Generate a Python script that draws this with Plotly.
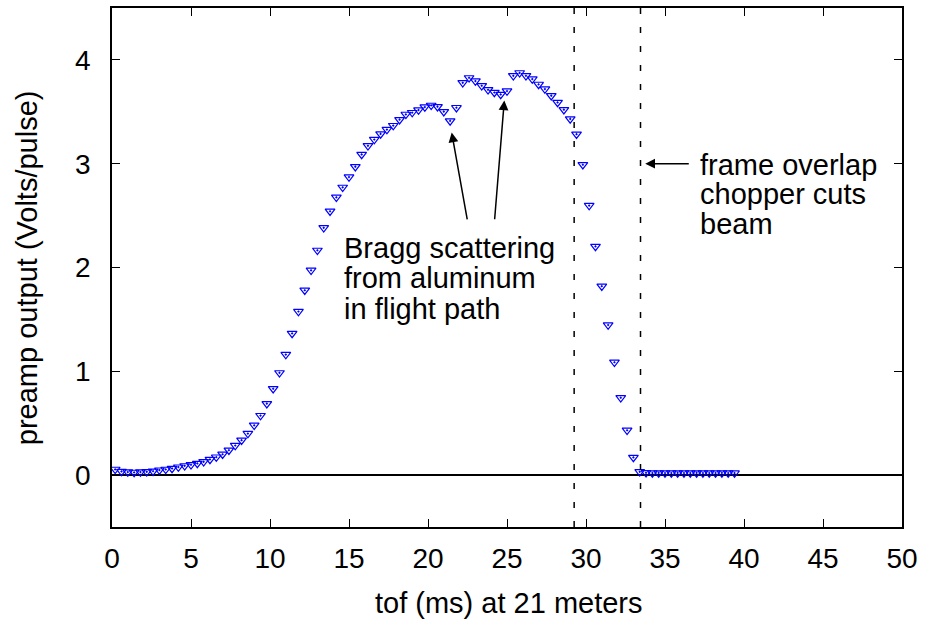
import plotly.graph_objects as go

# ---- data ----
tof_ms = [0.2, 0.6, 1.0, 1.4, 1.8, 2.2, 2.6, 3.0, 3.4, 3.8,
          4.2, 4.6, 5.0, 5.4, 5.8, 6.2, 6.6, 7.0, 7.4, 7.8,
          8.2, 8.6, 9.0, 9.4, 9.8, 10.2, 10.6, 11.0, 11.4, 11.8,
          12.2, 12.6, 13.0, 13.4, 13.8, 14.2, 14.6, 15.0, 15.4, 15.8,
          16.2, 16.6, 17.0, 17.4, 17.8, 18.2, 18.6, 19.0, 19.4, 19.8,
          20.2, 20.6, 21.0, 21.4, 21.8, 22.2, 22.6, 23.0, 23.4, 23.8,
          24.2, 24.6, 25.0, 25.4, 25.8, 26.2, 26.6, 27.0, 27.4, 27.8,
          28.2, 28.6, 29.0, 29.4, 29.8, 30.2, 30.6, 31.0, 31.4, 31.8,
          32.2, 32.6, 33.0, 33.4, 33.8, 34.2, 34.6, 35.0, 35.4, 35.8,
          36.2, 36.6, 37.0, 37.4, 37.8, 38.2, 38.6, 39.0, 39.4]

volts = [0.055, 0.035, 0.029, 0.026, 0.029, 0.032, 0.038, 0.048, 0.055, 0.064,
         0.077, 0.089, 0.099, 0.112, 0.128, 0.151, 0.173, 0.201, 0.240, 0.285,
         0.336, 0.400, 0.480, 0.573, 0.688, 0.832, 0.985, 1.161, 1.365, 1.576,
         1.781, 1.973, 2.165, 2.382, 2.542, 2.676, 2.772, 2.871, 2.971, 3.089,
         3.172, 3.233, 3.287, 3.329, 3.367, 3.424, 3.475, 3.492, 3.517, 3.546,
         3.562, 3.549, 3.501, 3.412, 3.540, 3.779, 3.827, 3.796, 3.751, 3.712,
         3.686, 3.667, 3.700, 3.847, 3.875, 3.847, 3.815, 3.764, 3.719, 3.655,
         3.590, 3.520, 3.431, 3.284, 2.990, 2.597, 2.203, 1.820, 1.446, 1.087,
         0.745, 0.432, 0.170, 0.032, 0.022, 0.020, 0.021, 0.020, 0.020, 0.021,
         0.020, 0.020, 0.021, 0.020, 0.020, 0.020, 0.021, 0.020, 0.020]

cut_lines = [29.25, 33.45]

x_ticks = [0, 5, 10, 15, 20, 25, 30, 35, 40, 45, 50]
y_ticks = [0, 1, 2, 3, 4]

bragg_lines = ["Bragg scattering", "from aluminum", "in flight path"]
frame_lines = ["frame overlap", "chopper cuts", "beam"]

x_title = "tof (ms) at 21 meters"
y_title = "preamp output (Volts/pulse)"

FONT = "Liberation Sans, Arial, Helvetica, sans-serif"
FS = 29
TICK_FS = 28

fig = go.Figure()
fig.add_trace(go.Scatter(
    x=tof_ms, y=volts, mode="markers",
    marker=dict(symbol="triangle-down-open-dot", size=8.5,
                color="#0000ff", line=dict(width=1.2, color="#0000ff")),
    showlegend=False, hoverinfo="x+y"))

for xv in cut_lines:
    fig.add_shape(type="line", xref="x", yref="paper", x0=xv, x1=xv, y0=0, y1=1,
                  line=dict(color="black", width=1.5, dash="6px,13px"))

# arrows (head at x,y; tail at ax,ay)
arrows = [
    dict(x=21.5, y=3.30, ax=22.5, ay=2.45),
    dict(x=24.83, y=3.61, ax=24.21, ay=2.45),
    dict(x=33.75, y=3.0, ax=36.6, ay=3.0),
]
for a in arrows:
    fig.add_annotation(x=a["x"], y=a["y"], ax=a["ax"], ay=a["ay"],
                       xref="x", yref="y", axref="x", ayref="y",
                       text="", showarrow=True, arrowhead=2, arrowsize=1.3,
                       arrowwidth=1.5, arrowcolor="black")

bragg_y = [2.19, 1.895, 1.605]
for t, yv in zip(bragg_lines, bragg_y):
    fig.add_annotation(x=14.55, y=yv, xref="x", yref="y", text=t, showarrow=False,
                       xanchor="left", yanchor="middle",
                       font=dict(family=FONT, size=FS, color="black"))

frame_y = [2.99, 2.705, 2.42]
for t, yv in zip(frame_lines, frame_y):
    fig.add_annotation(x=37.1, y=yv, xref="x", yref="y", text=t, showarrow=False,
                       xanchor="left", yanchor="middle",
                       font=dict(family=FONT, size=FS, color="black"))

fig.add_annotation(x=0.502, y=-0.146, xref="paper", yref="paper", text=x_title,
                   showarrow=False, xanchor="center", yanchor="middle",
                   font=dict(family=FONT, size=FS, color="black"))
fig.add_annotation(x=-0.108, y=0.5, xref="paper", yref="paper", text=y_title,
                   showarrow=False, xanchor="center", yanchor="middle", textangle=-90,
                   font=dict(family=FONT, size=FS, color="black"))

axis_common = dict(showgrid=False, showline=True, linecolor="black", linewidth=1.5,
                   mirror="ticks", ticks="inside", ticklen=8, tickwidth=1,
                   tickcolor="black", tickfont=dict(family=FONT, size=TICK_FS, color="black"))

fig.update_xaxes(range=[0, 50], tickvals=x_ticks, zeroline=False,
                 ticklabelstandoff=6, **axis_common)
fig.update_yaxes(range=[-0.5, 4.5], tickvals=y_ticks, zeroline=True,
                 zerolinecolor="black", zerolinewidth=1.5,
                 ticklabelstandoff=14, **axis_common)

fig.update_layout(width=927, height=623,
                  margin=dict(l=112, r=25, t=6, b=96, pad=0),
                  plot_bgcolor="white", paper_bgcolor="white",
                  font=dict(family=FONT, size=FS, color="black"))

fig.write_html("out.html", config={"displayModeBar": False},
               post_script="document.body.style.margin='0';document.body.style.overflow='hidden';")
